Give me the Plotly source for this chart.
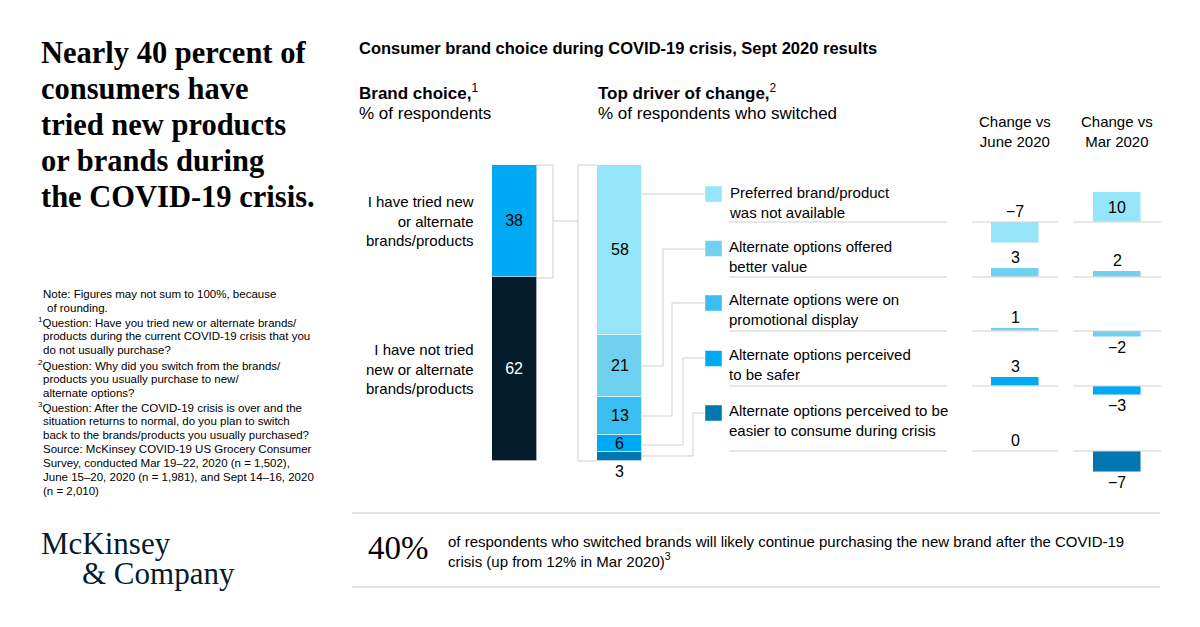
import plotly.graph_objects as go

W, H = 1200, 627
SANS = "Liberation Sans, Arial, sans-serif"
SERIF = "Liberation Serif, Times New Roman, serif"

# brand choice, % of respondents (bottom segment first)
brand_names = ["I have not tried<br>new or alternate<br>brands/products",
               "I have tried new<br>or alternate<br>brands/products"]
brand_values = [62, 38]
brand_colors = ["#051C2C", "#00A9F4"]

# top driver of change, % of respondents who switched (top segment first)
driver_names = ["Preferred brand/product<br>was not available",
                "Alternate options offered<br>better value",
                "Alternate options were on<br>promotional display",
                "Alternate options perceived<br>to be safer",
                "Alternate options perceived to be<br>easier to consume during crisis"]
driver_values = [58, 21, 13, 6, 3]
driver_colors = ["#96E4F8", "#6FD1EF", "#3ABEF2", "#00A9F4", "#0077B0"]

# change in driver share, percentage points
change_cols = ["Change vs<br>June 2020", "Change vs<br>Mar 2020"]
change_june = [-7, 3, 1, 3, 0]
change_mar = [10, 2, -2, -3, -7]
change_colors = ["#96E4F8", "#6FD1EF", "#6FD1EF", "#00A9F4", "#0077B0"]

headline = ["Nearly 40 percent of", "consumers have", "tried new products",
            "or brands during", "the COVID-19 crisis."]

notes = [
    (41, "Note: Figures may not sum to 100%, because"),
    (45, "of rounding."),
    (36, "<sup>1</sup>Question: Have you tried new or alternate brands/"),
    (41, "products during the current COVID-19 crisis that you"),
    (41, "do not usually purchase?"),
    (36, "<sup>2</sup>Question: Why did you switch from the brands/"),
    (41, "products you usually purchase to new/"),
    (41, "alternate options?"),
    (36, "<sup>3</sup>Question: After the COVID-19 crisis is over and the"),
    (41, "situation returns to normal, do you plan to switch"),
    (41, "back to the brands/products you usually purchased?"),
    (41, "Source: McKinsey COVID-19 US Grocery Consumer"),
    (41, "Survey, conducted Mar 19\u201322, 2020 (n = 1,502),"),
    (41, "June 15\u201320, 2020 (n = 1,981), and Sept 14\u201316, 2020"),
    (41, "(n = 2,010)"),
]


def px(x):
    return x / W


def py(y):
    return 1 - y / H


def fmt(v):
    return str(v).replace("-", "\u2212")


fig = go.Figure()

# brand choice bar
for name, v, c in zip(brand_names, brand_values, brand_colors):
    fig.add_bar(x=[0], y=[v], width=1, marker_color=c,
                marker_line=dict(color="#c9d0d6", width=0.8),
                text=[v], textposition="inside", insidetextanchor="middle", textangle=0,
                textfont=dict(size=16, color="white" if c == "#051C2C" else "black"),
                xaxis="x", yaxis="y", hoverinfo="skip", showlegend=False)

# driver bar (stacked from the bottom), labels added as annotations below
for name, v, c in reversed(list(zip(driver_names, driver_values, driver_colors))):
    fig.add_bar(x=[0], y=[v], width=1, marker_color=c,
                marker_line=dict(color="rgba(255,255,255,0.7)", width=1),
                xaxis="x2", yaxis="y2", hoverinfo="skip", showlegend=False)

# change rows
baselines = [222, 277, 331, 386, 451]
for i in range(len(driver_values)):
    k = i + 3
    fig.add_bar(x=[0, 1], y=[change_june[i], change_mar[i]], width=0.47,
                marker_color=change_colors[i],
                marker_line=dict(color="rgba(255,255,255,0.6)", width=0.8),
                xaxis=f"x{k}", yaxis=f"y{k}", hoverinfo="skip", showlegend=False)

axes = {
    "xaxis": dict(domain=[px(492), px(537)], range=[-0.5, 0.5], anchor="y"),
    "yaxis": dict(domain=[py(461), py(165)], range=[0, sum(brand_values)], anchor="x"),
    "xaxis2": dict(domain=[px(597), px(642)], range=[-0.5, 0.5], anchor="y2"),
    "yaxis2": dict(domain=[py(461), py(165)], range=[0, sum(driver_values)], anchor="x2"),
}
for i, b in enumerate(baselines):
    k = i + 3
    axes[f"xaxis{k}"] = dict(domain=[px(964), px(1168)], range=[-0.5, 1.5], anchor=f"y{k}")
    axes[f"yaxis{k}"] = dict(domain=[py(b + 24), py(b - 33)], range=[-8, 11], anchor=f"x{k}")
for a in axes.values():
    a.update(visible=False, fixedrange=True, showgrid=False, zeroline=False)

GREY = "#cfcfcf"
shapes = []


def path(pts, color=GREY, w=1):
    d = "M " + " L ".join(f"{px(x)},{py(y)}" for x, y in pts)
    shapes.append(dict(type="path", path=d, xref="paper", yref="paper",
                       line=dict(color=color, width=w)))


# brackets and connectors
path([(537, 165), (553, 165), (553, 278), (537, 278)])
path([(553, 221), (578, 221)])
path([(597, 165), (578, 165), (578, 461), (597, 461)])
path([(642, 194), (705, 194)])
path([(642, 366), (663, 366), (663, 249), (705, 249)])
path([(642, 416), (672, 416), (672, 303), (705, 303)])
path([(642, 445), (683, 445), (683, 358), (705, 358)])
path([(642, 456), (693, 456), (693, 413), (705, 413)])

# legend squares
sq_centers = [194, 248.5, 303, 358.5, 413]
for c, yc in zip(driver_colors, sq_centers):
    shapes.append(dict(type="rect", xref="paper", yref="paper",
                       x0=px(705), x1=px(722), y0=py(yc + 8), y1=py(yc - 8),
                       fillcolor=c, line=dict(color="rgba(255,255,255,0.6)", width=0.8)))

# row baselines / separators
for i in range(len(baselines)):
    k = i + 3
    for x0, x1 in [(729, 947), (972, 1058), (1073, 1161)]:
        shapes.append(dict(type="line", xref="paper", yref=f"y{k}",
                           x0=px(x0), x1=px(x1), y0=0, y1=0,
                           line=dict(color=GREY, width=1)))

# bottom rules
for yy in [513, 587]:
    shapes.append(dict(type="line", xref="paper", yref="paper",
                       x0=px(352), x1=px(1160), y0=py(yy), y1=py(yy),
                       line=dict(color="#c8c8c8", width=1)))

ann = []


def txt(x, y, s, size=14, xanchor="left", yanchor="middle", family=SANS,
        color="#000", align="left", xref="paper", yref="paper"):
    ann.append(dict(x=x if xref != "paper" else px(x),
                    y=y if yref != "paper" else py(y),
                    xref=xref, yref=yref, text=s, showarrow=False,
                    xanchor=xanchor, yanchor=yanchor, align=align,
                    font=dict(family=family, size=size, color=color)))


# left headline
for i, line in enumerate(headline):
    txt(39, 53 + i * 36, f"<b>{line}</b>", size=30.5, family=SERIF)

for i, (x, line) in enumerate(notes):
    txt(x, 294 + i * 14.1, line, size=11.5)

txt(39, 543, "McKinsey", size=31, family=SERIF, color="#051C2C")
txt(80, 573, "&amp; Company", size=31, family=SERIF, color="#051C2C")

# headings
txt(357, 48, "<b>Consumer brand choice during COVID-19 crisis, Sept 2020 results</b>", size=16.5)
txt(357, 92, "<b>Brand choice,</b><sup>1</sup>", size=17)
txt(357, 113, "% of respondents", size=17)
txt(596, 92, "<b>Top driver of change,</b><sup>2</sup>", size=17)
txt(596, 113, "% of respondents who switched", size=17)

# brand labels at segment midpoints
cum = 0
for name, v in zip(brand_names, brand_values):
    txt(476, cum + v / 2, name, size=15, xanchor="right", align="right", yref="y")
    cum += v

# driver segment labels: inside for big segments, below the bar for the smallest
cum = 0
for v in reversed(driver_values):
    if v >= 5:
        txt(0, cum + v / 2, str(v), size=16, xanchor="center", xref="x2", yref="y2")
    else:
        txt(0, 0, str(v), size=16, xanchor="center", yanchor="top", xref="x2", yref="y2")
    cum += v

# legend text
for name, yc in zip(driver_names, [202.5, 256, 309, 364.5, 420.5]):
    txt(727, yc, name, size=15)

# change column headers
for j, lab in enumerate(change_cols):
    txt(j, 131.5, lab, size=15, xanchor="center", align="center", xref="x3")

# change labels
for i in range(len(baselines)):
    k = i + 3
    for j, v in enumerate([change_june[i], change_mar[i]]):
        if j == 0:
            y, ya = max(v, 0), "bottom"
        elif v >= 5:
            y, ya = v / 2, "middle"
        elif v >= 0:
            y, ya = v, "bottom"
        else:
            y, ya = v, "top"
        txt(j, y, fmt(v), size=16, xanchor="center", yanchor=ya,
            xref=f"x{k}", yref=f"y{k}")

# bottom callout
txt(366, 548, "40%", size=33, family=SERIF)
txt(446, 551, "of respondents who switched brands will likely continue purchasing the new brand "
    "after the COVID-19<br>crisis (up from 12% in Mar 2020)<sup>3</sup>", size=15)

fig.update_layout(
    width=W, height=H, margin=dict(l=0, r=0, t=0, b=0),
    paper_bgcolor="white", plot_bgcolor="rgba(0,0,0,0)",
    barmode="stack", bargap=0,
    font=dict(family=SANS, color="#000"),
    shapes=shapes, annotations=ann,
    **axes,
)

# the page body has a default margin; drop it so the figure fills the window
fig.write_html("out.html", config={"displayModeBar": False},
               post_script="document.body.style.margin='0';")
